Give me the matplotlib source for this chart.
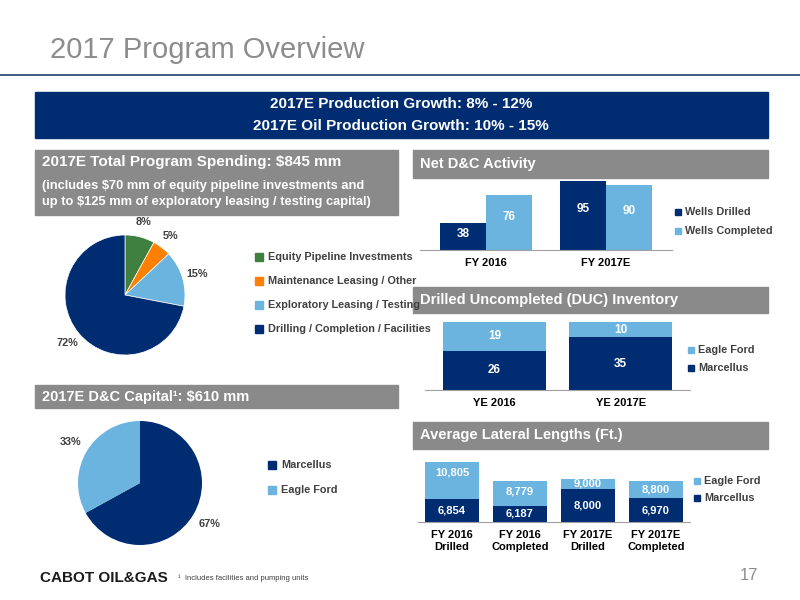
import matplotlib
matplotlib.use("Agg")
import matplotlib.pyplot as plt
from matplotlib.patches import Rectangle
import numpy as np

NAVY = "#002d72"
LBLUE = "#6cb4e0"
GREEN = "#3f7f3f"
ORANGE = "#ff8000"
GREY = "#8a8a8a"

# ---------- data ----------
spend_labels = ["Equity Pipeline Investments", "Maintenance Leasing / Other",
                "Exploratory Leasing / Testing", "Drilling / Completion / Facilities"]
spend_pct = [8, 5, 15, 72]

capital_labels = ["Marcellus", "Eagle Ford"]
capital_pct = [67, 33]

dc_years = ["FY 2016", "FY 2017E"]
wells_drilled = [38, 95]
wells_completed = [76, 90]

duc_years = ["YE 2016", "YE 2017E"]
duc_marcellus = [26, 35]
duc_eagle = [19, 10]

lat_cats = ["FY 2016\nDrilled", "FY 2016\nCompleted", "FY 2017E\nDrilled", "FY 2017E\nCompleted"]
lat_marcellus = [6854, 6187, 8000, 6970]
lat_eagle = [10805, 8779, 9000, 8800]

W, H = 800, 600
plt.rcParams["font.family"] = ["Liberation Sans", "DejaVu Sans"]
fig = plt.figure(figsize=(8, 6), dpi=100)


def rect(x0, y0, x1, y1):
    return [x0 / W, 1 - y1 / H, (x1 - x0) / W, (y1 - y0) / H]


def box(x0, y0, x1, y1, color):
    fig.patches.append(Rectangle((x0 / W, 1 - y1 / H), (x1 - x0) / W, (y1 - y0) / H,
                                 transform=fig.transFigure, color=color, zorder=0))


def txt(x, y, s, **kw):
    fig.text(x / W, 1 - y / H, s, **kw)


# ---------- header ----------
txt(50, 50, "2017 Program Overview", fontsize=21, color="#8c8c8c", va="center")
fig.add_artist(plt.Line2D([0, 1], [1 - 75 / H] * 2, color="#1f3f6f", lw=1.2))
box(35, 92, 768, 138, NAVY)
txt(401, 104, "2017E Production Growth: 8% - 12%", color="white", fontsize=11,
    fontweight="bold", ha="center", va="center")
txt(401, 126, "2017E Oil Production Growth: 10% - 15%", color="white", fontsize=11,
    fontweight="bold", ha="center", va="center")

# ---------- section headers ----------
box(35, 150, 398, 215, GREY)
txt(42, 162, "2017E Total Program Spending: $845 mm", color="white", fontsize=11,
    fontweight="bold", va="center")
txt(42, 194, "(includes $70 mm of equity pipeline investments and\nup to $125 mm of exploratory leasing / testing capital)",
    color="white", fontsize=9.3, fontweight="bold", va="center", linespacing=1.35)
box(35, 385, 398, 408, GREY)
txt(42, 397, "2017E D&C Capital\u00b9: $610 mm", color="white", fontsize=10.5,
    fontweight="bold", va="center")
for y0, y1, s in [(150, 178, "Net D&C Activity"),
                  (287, 313, "Drilled Uncompleted (DUC) Inventory"),
                  (422, 449, "Average Lateral Lengths (Ft.)")]:
    box(413, y0, 768, y1, GREY)
    txt(420, (y0 + y1) / 2, s, color="white", fontsize=10.5, fontweight="bold", va="center")


def pie_ax(cx, cy, r):
    return fig.add_axes(rect(cx - r, cy - r, cx + r, cy + r))


LBL = dict(fontsize=7.8, fontweight="bold", color="#404040")

# ---------- pie 1 ----------
ax = pie_ax(125, 295, 60)
ax.pie(spend_pct, colors=[GREEN, ORANGE, LBLUE, NAVY], startangle=90, counterclock=False,
       wedgeprops=dict(edgecolor="white", linewidth=0.5), radius=1, frame=True,
       autopct="%d%%", pctdistance=1.25, textprops=LBL)
ax.set_xlim(-1, 1); ax.set_ylim(-1, 1); ax.set_axis_off()
for i, (lab, c) in enumerate(zip(spend_labels, [GREEN, ORANGE, LBLUE, NAVY])):
    y = 257 + i * 24
    box(255, y - 4, 263, y + 4, c)
    txt(268, y, lab, va="center", **LBL)

# ---------- pie 2 ----------
ax = pie_ax(140, 483, 62)
ax.pie(capital_pct, colors=[NAVY, LBLUE], startangle=90, counterclock=False,
       radius=1, frame=True, autopct="%d%%", pctdistance=1.3, textprops=LBL)
ax.set_xlim(-1, 1); ax.set_ylim(-1, 1); ax.set_axis_off()
for i, (lab, c) in enumerate(zip(capital_labels, [NAVY, LBLUE])):
    y = 465 + i * 25
    box(268, y - 4, 276, y + 4, c)
    txt(281, y, lab, va="center", **LBL)


def clean(ax):
    for s in ["top", "right", "left"]:
        ax.spines[s].set_visible(False)
    ax.spines["bottom"].set_color("#a0a0a0")
    ax.set_yticks([])
    ax.tick_params(axis="x", length=0, labelsize=8, pad=6)
    for t in ax.get_xticklabels():
        t.set_fontweight("bold")


# ---------- Net D&C ----------
ax = fig.add_axes(rect(420, 180, 672, 250))
x = np.arange(len(dc_years))
w = 0.38
b1 = ax.bar(x - w / 2, wells_drilled, w, color=NAVY)
b2 = ax.bar(x + w / 2, wells_completed, w, color=LBLUE)
for bars in (b1, b2):
    for b in bars:
        ax.text(b.get_x() + b.get_width() / 2, b.get_height() * 0.6, f"{b.get_height():.0f}",
                ha="center", va="center", color="white", fontsize=8.5, fontweight="bold")
ax.set_ylim(0, 97)
ax.set_xlim(-0.55, 1.55)
ax.set_xticks(x, dc_years)
clean(ax)
for i, (lab, c) in enumerate(zip(["Wells Drilled", "Wells Completed"], [NAVY, LBLUE])):
    y = 212 + i * 19
    box(675, y - 3, 681, y + 3, c)
    txt(685, y, lab, fontsize=7.8, fontweight="bold", color="#404040", va="center")

# ---------- DUC ----------
ax = fig.add_axes(rect(425, 322, 690, 390))
x = np.arange(len(duc_years))
b1 = ax.bar(x, duc_marcellus, 0.82, color=NAVY)
b2 = ax.bar(x, duc_eagle, 0.82, bottom=duc_marcellus, color=LBLUE)
for bars, bot in ((b1, [0, 0]), (b2, duc_marcellus)):
    for b, bt in zip(bars, bot):
        ax.text(b.get_x() + b.get_width() / 2, bt + b.get_height() * 0.5, f"{b.get_height():.0f}",
                ha="center", va="center", color="white", fontsize=8.5, fontweight="bold")
ax.set_ylim(0, 45)
ax.set_xlim(-0.55, 1.55)
ax.set_xticks(x, duc_years)
clean(ax)
for i, (lab, c) in enumerate(zip(["Eagle Ford", "Marcellus"], [LBLUE, NAVY])):
    y = 350 + i * 18
    box(688, y - 3, 694, y + 3, c)
    txt(698, y, lab, fontsize=7.8, fontweight="bold", color="#404040", va="center")

# ---------- lateral lengths ----------
ax = fig.add_axes(rect(418, 455, 690, 522))
x = np.arange(len(lat_cats))
b2 = ax.bar(x, lat_eagle, 0.8, color=LBLUE)
b1 = ax.bar(x, lat_marcellus, 0.8, color=NAVY)
for b, v, m in zip(b2, lat_eagle, lat_marcellus):
    ax.text(b.get_x() + b.get_width() / 2, max((v + m) / 2, v - 1100), f"{v:,}",
            ha="center", va="center", color="white", fontsize=8, fontweight="bold")
for b, v in zip(b1, lat_marcellus):
    ax.text(b.get_x() + b.get_width() / 2, (v + 4500) / 2, f"{v:,}", ha="center", va="center",
            color="white", fontsize=8, fontweight="bold")
ax.set_ylim(4500, 11500)
ax.set_xlim(-0.5, 3.5)
ax.set_xticks(x, lat_cats)
clean(ax)
for i, (lab, c) in enumerate(zip(["Eagle Ford", "Marcellus"], [LBLUE, NAVY])):
    y = 481 + i * 17
    box(694, y - 3, 700, y + 3, c)
    txt(704, y, lab, fontsize=7.8, fontweight="bold", color="#404040", va="center")

# ---------- footer ----------
txt(40, 578, "CABOT OIL&GAS", fontsize=11, fontweight="bold", color="#1a1a1a", va="center")
txt(178, 578, "\u00b9  Includes facilities and pumping units", fontsize=5.5, color="#404040", va="center")
txt(740, 575, "17", fontsize=12, color="#8c8c8c", va="center")

fig.savefig("out.png", dpi=100)
